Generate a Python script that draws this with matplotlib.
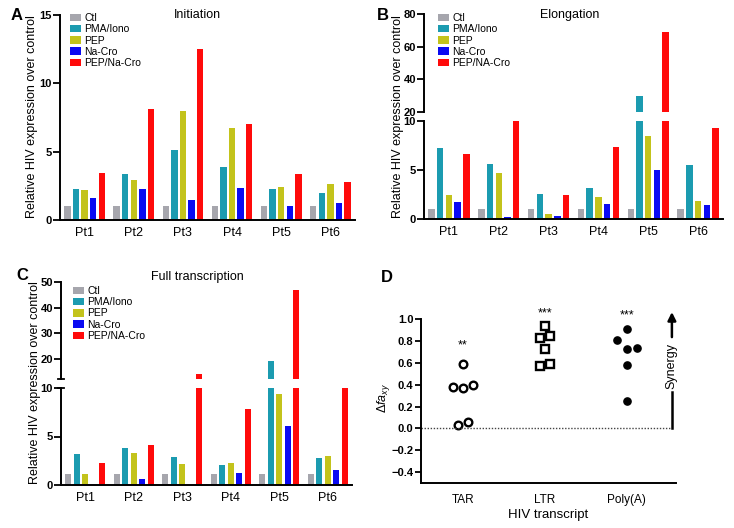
import matplotlib.pyplot as plt
import numpy as np

plt.rcParams['font.family'] = ['Liberation Sans', 'DejaVu Sans']
plt.rcParams['mathtext.fontset'] = 'custom'
plt.rcParams['mathtext.it'] = 'Liberation Sans:italic'
plt.rcParams['mathtext.rm'] = 'Liberation Sans'

W, H = 734, 528

patients = ['Pt1', 'Pt2', 'Pt3', 'Pt4', 'Pt5', 'Pt6']
labels_a = ['Ctl', 'PMA/Iono', 'PEP', 'Na-Cro', 'PEP/Na-Cro']
labels_bc = ['Ctl', 'PMA/Iono', 'PEP', 'Na-Cro', 'PEP/NA-Cro']
colors = ['#a6a6ad', '#1b9bb0', '#c3c31b', '#0a0af2', '#ff0a0a']

# rows: Ctl, PMA/Iono, PEP, Na-Cro, PEP/Na-Cro
initiation = [
    [1, 1, 1, 1, 1, 1],
    [2.25, 3.4, 5.1, 3.9, 2.3, 2.0],
    [2.2, 2.95, 8.0, 6.75, 2.4, 2.6],
    [1.6, 2.25, 1.45, 2.35, 1.0, 1.25],
    [3.45, 8.15, 12.5, 7.0, 3.35, 2.75],
]
elongation = [
    [1, 1, 1, 1, 1, 1],
    [7.2, 5.6, 2.55, 3.2, 30, 5.5],
    [2.5, 4.65, 0.5, 2.2, 8.5, 1.8],
    [1.75, 0.25, 0.3, 1.55, 4.95, 1.45],
    [6.6, 10, 2.45, 7.35, 69, 9.3],
]
full = [
    [1.1, 1.1, 1.1, 1.1, 1.1, 1.1],
    [3.15, 3.8, 2.9, 2.1, 19, 2.75],
    [1.1, 3.35, 2.15, 2.25, 9.35, 2.95],
    [0, 0.6, 0, 1.2, 6.1, 1.5],
    [2.3, 4.1, 14, 7.8, 47, 10],
]

transcripts = ['TAR', 'LTR', 'Poly(A)']
tar = [0.38, 0.37, 0.40, 0.59, 0.03, 0.06]
tar_dx = [-0.36, 0.0, 0.36, 0.0, -0.18, 0.18]
ltr = [0.94, 0.83, 0.85, 0.73, 0.57, 0.59]
ltr_dx = [0.0, -0.18, 0.2, 0.0, -0.18, 0.2]
polya = [0.81, 0.91, 0.73, 0.74, 0.58, 0.25]
polya_dx = [-0.36, 0.0, 0.0, 0.36, 0.0, 0.0]
stars = ['**', '***', '***']
star_y = [0.76, 1.05, 1.03]

fig = plt.figure(figsize=(W / 100, H / 100), dpi=100)


def px_axes(l, t, r, b):
    return fig.add_axes([l / W, 1 - b / H, (r - l) / W, (b - t) / H])


def draw_bars(ax, data):
    x = np.arange(len(patients))
    handles = []
    for i, vals in enumerate(data):
        handles.append(ax.bar(x + (i - 2) * 0.175, vals, 0.13,
                              color=colors[i], edgecolor='none'))
    ax.set_xlim(-0.5, 5.5)
    return handles


def style(ax, yticks, bottom=True):
    ax.spines['right'].set_visible(False)
    ax.spines['top'].set_visible(False)
    ax.spines['bottom'].set_visible(bottom)
    ax.spines['left'].set_linewidth(1.4)
    ax.spines['bottom'].set_linewidth(1.4)
    ax.set_yticks(yticks)
    ax.tick_params(axis='y', direction='out', length=5, width=1.3,
                   labelsize=8, pad=0.8)
    plt.setp(ax.get_yticklabels(), fontweight='bold')
    if bottom:
        ax.set_xticks(np.arange(len(patients)))
        ax.set_xticklabels(patients)
        ax.tick_params(axis='x', length=0, labelsize=9, pad=5)
    else:
        ax.set_xticks([])


def add_legend(ax, handles, labels, x, y):
    ax.legend(handles, labels, loc='upper left',
              bbox_to_anchor=(x / W, 1 - y / H), bbox_transform=fig.transFigure,
              frameon=False, fontsize=7.5, handlelength=1.1, handleheight=0.75,
              handletextpad=0.3, labelspacing=0.12, borderpad=0, borderaxespad=0)


# Panel A
axA = px_axes(60, 15, 355, 220)
hA = draw_bars(axA, initiation)
axA.set_ylim(0, 15)
style(axA, [0, 5, 10, 15])
add_legend(axA, hA, labels_a, 70, 13)

# Panel B (broken axis)
axB1 = px_axes(424, 14, 723, 112)
axB2 = px_axes(424, 121, 723, 219)
hB = draw_bars(axB1, elongation)
draw_bars(axB2, elongation)
axB1.set_ylim(20, 80)
axB2.set_ylim(0, 10)
style(axB1, [20, 40, 60, 80], bottom=False)
style(axB2, [0, 5, 10])
add_legend(axB1, hB, labels_bc, 438, 13)

# Panel C (broken axis)
axC1 = px_axes(61, 282, 352, 379)
axC2 = px_axes(61, 388, 352, 485)
hC = draw_bars(axC1, full)
draw_bars(axC2, full)
axC1.set_ylim(12, 50)
axC2.set_ylim(0, 10)
style(axC1, [20, 30, 40, 50], bottom=False)
style(axC2, [0, 5, 10])
add_legend(axC1, hC, labels_bc, 73, 286)
for ax, yv in [(axC1, 12), (axC2, 10)]:
    ax.plot([-0.56, -0.44], [yv, yv], color='black', lw=1.3, clip_on=False)

# Panel D
axD = px_axes(421, 306, 676, 483)
xpos = np.arange(len(transcripts))
axD.plot(xpos[0] + np.array(tar_dx) * 0.33, tar, 'o', ms=5.5, mfc='white',
         mec='black', mew=1.7, clip_on=False)
axD.plot(xpos[1] + np.array(ltr_dx) * 0.33, ltr, 's', ms=5.5, mfc='white',
         mec='black', mew=1.7, clip_on=False)
axD.plot(xpos[2] + np.array(polya_dx) * 0.33, polya, 'o', ms=5.2,
         color='black', clip_on=False)
for xi, s, sy in zip(xpos, stars, star_y):
    axD.text(xi, sy, s, ha='center', va='center', fontsize=9)
axD.set_xlim(-0.51, 2.6)
axD.set_ylim(-0.5, 1.12)
axD.spines['right'].set_visible(False)
axD.spines['top'].set_visible(False)
axD.spines['left'].set_linewidth(1.4)
axD.spines['bottom'].set_linewidth(1.4)
axD.spines['left'].set_bounds(-0.5, 1.0)
yt = np.round(np.arange(-0.4, 1.01, 0.2), 1)
axD.set_yticks(yt)
axD.set_yticklabels([f'{v:.1f}'.replace('-', '\u2212') for v in yt])
axD.tick_params(axis='y', direction='out', length=4, width=1.3,
                labelsize=8, pad=1.5)
plt.setp(axD.get_yticklabels(), fontweight='bold')
axD.set_xticks(xpos)
axD.set_xticklabels(transcripts)
axD.tick_params(axis='x', length=0, labelsize=8.5, pad=8)
axD.set_xlabel('HIV transcript', fontsize=9.5, labelpad=2)
axD.plot([-0.51, 2.55], [0, 0], ls=(0, (1, 1.2)), color='#444444', lw=1)
axD.plot([2.55, 2.55], [0, 0.33], color='black', lw=1.8, clip_on=False)
axD.annotate('', xy=(2.55, 1.09), xytext=(2.55, 0.81),
             arrowprops=dict(arrowstyle='-|>', color='black', lw=1.8,
                             mutation_scale=12), annotation_clip=False)
axD.text(2.55, 0.57, 'Synergy', rotation=90, ha='center', va='center',
         fontsize=9)

# shared texts
fig.text(197 / W, 1 - 15 / H, 'Initiation', ha='center', va='center', fontsize=9)
fig.text(570 / W, 1 - 15 / H, 'Elongation', ha='center', va='center', fontsize=9)
fig.text(197 / W, 1 - 277 / H, 'Full transcription', ha='center', va='center',
         fontsize=9)
ylab = 'Relative HIV expression over control'
fig.text(32 / W, 1 - 117 / H, ylab, rotation=90, ha='center', va='center',
         fontsize=9)
fig.text(398 / W, 1 - 117 / H, ylab, rotation=90, ha='center', va='center',
         fontsize=9)
fig.text(35 / W, 1 - 383 / H, ylab, rotation=90, ha='center', va='center',
         fontsize=9)
fig.text(383 / W, 1 - 398 / H, r'$\mathit{\Delta fa_{xy}}$', rotation=90,
         ha='center', va='center', fontsize=9)
for lab, x, y in [('A', 17, 15), ('B', 383, 15), ('C', 22, 275), ('D', 387, 277)]:
    fig.text(x / W, 1 - y / H, lab, ha='center', va='center', fontsize=12,
             fontweight='bold')

fig.savefig('out.png', dpi=100)
